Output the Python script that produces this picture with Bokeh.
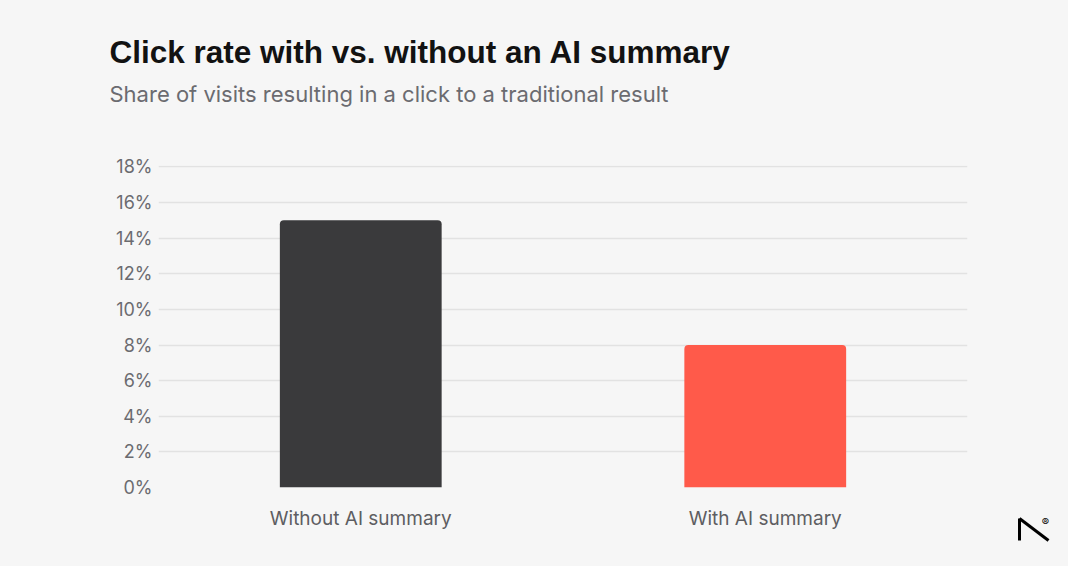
from bokeh.plotting import figure
from bokeh.layouts import row
from bokeh.models import (Range1d, FactorRange, FixedTicker,
                          PrintfTickFormatter, ColumnDataSource, Title)
from bokeh.core.properties import value
from bokeh.embed import file_html
from bokeh.resources import INLINE

# ---- data ----
categories = ["Without AI summary", "With AI summary"]
click_rate = [15, 8]          # percent
bar_colors = ["#3a3a3c", "#ff5a4a"]
y_ticks = [0, 2, 4, 6, 8, 10, 12, 14, 16, 18]
title_text = "Click rate with vs. without an AI summary"
subtitle_text = "Share of visits resulting in a click to a traditional result"

H = 566
W_MAIN, W_LOGO = 1005, 63
BG = "#f6f6f6"

p = figure(width=W_MAIN, height=H, x_range=FactorRange(*categories),
           y_range=Range1d(0, 18.08), output_backend="svg", toolbar_location=None,
           min_border_left=158, min_border_right=W_MAIN - 967, min_border_top=165,
           min_border_bottom=79, frame_align=False)
p.background_fill_color = BG
p.border_fill_color = BG
p.outline_line_color = None

src = ColumnDataSource(dict(cat=categories, val=click_rate, col=bar_colors))
p.vbar(x="cat", top="val", width=0.4, fill_color="col", line_color=None,
       border_radius=(4, 4, 0, 0), source=src)

# grid / axes
p.xgrid.grid_line_color = None
p.ygrid.grid_line_color = "#e2e2e2"
p.ygrid.grid_line_width = 1.5
p.yaxis.ticker = FixedTicker(ticks=y_ticks)
p.yaxis.formatter = PrintfTickFormatter(format="%d%%")

for ax in (p.xaxis, p.yaxis):
    ax.axis_line_color = None
    ax.major_tick_line_color = None
    ax.minor_tick_line_color = None
    ax.major_label_text_font = "Inter"
    ax.major_label_text_color = "#6b6b70"
p.yaxis.major_label_text_font_size = "18px"
p.yaxis.major_label_standoff = 0
p.xaxis.major_label_text_font_size = "19px"
p.xaxis.major_label_standoff = 13
p.xaxis.major_label_text_color = "#5e5e62"

# titles (stacked outward from the plot frame)
p.add_layout(Title(text=" ", text_font="Inter", text_font_size="10px",
                   standoff=40), "above")
p.add_layout(Title(text=subtitle_text, text_font="Inter", text_font_style="normal",
                   text_font_size="22px", text_color="#6b6b70", align="left",
                   offset=-49, standoff=10), "above")
p.add_layout(Title(text=title_text, text_font="Liberation Sans",
                   text_font_style="bold", text_font_size="31.5px",
                   text_color="#121212", align="left", offset=-49,
                   standoff=8), "above")

# logo panel (brand mark, bottom right)
lg = figure(width=W_LOGO, height=H, x_range=Range1d(W_MAIN, W_MAIN + W_LOGO),
            y_range=Range1d(H, 0), output_backend="svg", toolbar_location=None,
            min_border=0, x_axis_location=None, y_axis_location=None,
            frame_align=False)
lg.background_fill_color = BG
lg.border_fill_color = BG
lg.outline_line_color = None
lg.grid.visible = False
lg.multi_line(xs=[[1019, 1019], [1019, 1048]], ys=[[518, 540], [518, 540]],
              line_color="#000000", line_width=3)
lg.text(x=[1045], y=[521], text=["®"], text_font=value("Inter"),
        text_font_size="11px", text_color="#000000", text_align="center",
        text_baseline="middle")

layout = row(p, lg, spacing=0)
layout.styles = {"background-color": BG}
open("out.html", "w").write(file_html(layout, INLINE))
